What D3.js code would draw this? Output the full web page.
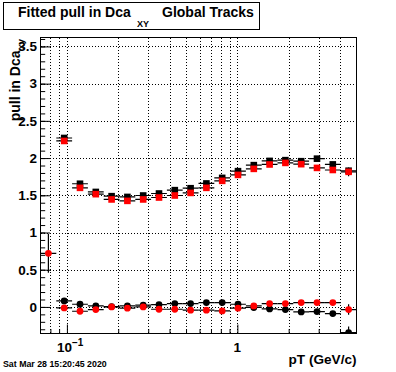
<!DOCTYPE html>
<html><head><meta charset="utf-8">
<script src="https://cdn.jsdelivr.net/npm/d3@7"></script>
<style>body{margin:0;background:#fff} text{font-family:"Liberation Sans",Arial,Helvetica,sans-serif;font-weight:bold;fill:#000}</style>
</head><body><svg id="c" width="396" height="372"></svg>
<script>
// pT bin edges (GeV/c), log-uniform 0.07 .. 5
const binEdges = [0.07, 0.08665, 0.10727, 0.13279, 0.16438, 0.20349, 0.25191, 0.31184, 0.38603, 0.47786, 0.59155,
                  0.73228, 0.90648, 1.12232, 1.38940, 1.71985, 2.12903, 2.63553, 3.26253, 4.03878, 5.0];
// series values per bin (null = no point)
const blackSquares = [null, 2.27, 1.655, 1.545, 1.488, 1.478, 1.497, 1.524, 1.569, 1.595, 1.659, 1.734, 1.824, 1.905, 1.962, 1.972, 1.958, 1.992, 1.915, 1.83];
const redSquares   = [null, 2.23, 1.600, 1.515, 1.444, 1.425, 1.444, 1.470, 1.497, 1.532, 1.600, 1.694, 1.774, 1.855, 1.914, 1.935, 1.918, 1.868, 1.840, 1.815];
const blackCircles = [null, 0.081, 0.036, 0.013, 0.005, 0.013, 0.023, 0.032, 0.045, 0.045, 0.059, 0.059, 0.036, -0.008, -0.027, -0.035, -0.067, -0.062, -0.089, -0.344];
const redCircles   = [0.72, -0.013, -0.058, -0.035, 0.0, -0.017, 0.0, -0.031, -0.031, -0.044, -0.044, -0.054, -0.017, 0.013, 0.045, 0.045, 0.059, 0.059, 0.059, -0.035];
// vertical errors
const blackSquaresErr = [0, 0.02, 0.02, 0.01, 0.01, 0.01, 0.01, 0.01, 0.01, 0.01, 0.01, 0.01, 0.01, 0.01, 0.01, 0.01, 0.01, 0.02, 0.02, 0.03];
const redSquaresErr   = [0, 0.02, 0.02, 0.01, 0.01, 0.01, 0.01, 0.01, 0.01, 0.01, 0.01, 0.01, 0.01, 0.01, 0.01, 0.01, 0.01, 0.02, 0.02, 0.06];
const blackCirclesErr = [0, 0.02, 0.01, 0.01, 0.01, 0.01, 0.01, 0.01, 0.01, 0.01, 0.01, 0.01, 0.01, 0.01, 0.01, 0.01, 0.01, 0.02, 0.02, 0.08];
const redCirclesErr   = [0.26, 0.02, 0.01, 0.01, 0.01, 0.01, 0.01, 0.01, 0.01, 0.01, 0.01, 0.01, 0.01, 0.01, 0.01, 0.01, 0.01, 0.02, 0.02, 0.07];

const yTicks = [0, 0.5, 1, 1.5, 2, 2.5, 3, 3.5];
const xMajorTicks = [0.1, 1];
const xMinorTicks = [0.08, 0.09, 0.2, 0.3, 0.4, 0.5, 0.6, 0.7, 0.8, 0.9, 2, 3, 4];
const titleMain = "Fitted pull in Dca", titleSub = "XY", titleRest = "Global Tracks";
const xTitle = "pT (GeV/c)";
const yTitleMain = "pull in Dca", yTitleSub = "xy";
const dateText = "Sat Mar 28 15:20:45 2020";

const W = 396, H = 372;
const svg = d3.select("#c");
svg.append("rect").attr("width", W).attr("height", H).attr("fill", "#fff");

const L = 40.5, R = 356.5, T = 37.5, B = 333.5;
const x = d3.scaleLog().domain([0.07, 5]).range([L, R]);
const y = d3.scaleLinear().domain([-0.357, 3.62]).range([B, T]);

// frame background
svg.append("rect").attr("x", L).attr("y", T).attr("width", R - L).attr("height", B - T).attr("fill", "#fff");

// grid
const grid = svg.append("g").attr("stroke", "#000").attr("stroke-width", 1).attr("stroke-dasharray", "1,2").attr("shape-rendering", "crispEdges");
xMajorTicks.concat(xMinorTicks).forEach(v => {
  const px = Math.round(x(v)) + 0.5;
  grid.append("line").attr("x1", px).attr("x2", px).attr("y1", T).attr("y2", B);
});
yTicks.forEach(v => {
  const py = Math.round(y(v)) + 0.5;
  grid.append("line").attr("x1", L).attr("x2", R).attr("y1", py).attr("y2", py);
});

// y axis
const yMinor = d3.range(-3, 37).map(i => i / 10);
svg.append("g").attr("transform", `translate(${L},0)`)
  .call(d3.axisLeft(y).tickValues(yMinor).tickSize(-4.7).tickFormat(""))
  .call(g => g.select(".domain").remove());
const yAx = svg.append("g").attr("transform", `translate(${L},0)`)
  .call(d3.axisLeft(y).tickValues(yTicks).tickSize(-9.5).tickSizeOuter(0).tickPadding(3.5).tickFormat(d3.format("~g")));
yAx.select(".domain").remove();
yAx.selectAll("text").style("font-size", "13.5px").style("font-family", "Liberation Sans").style("font-weight", "bold");

// x axis
svg.append("g").attr("transform", `translate(0,${B})`)
  .call(d3.axisBottom(x).tickValues(xMinorTicks).tickSize(-4.5).tickFormat(""))
  .call(g => g.select(".domain").remove());
svg.append("g").attr("transform", `translate(0,${B})`)
  .call(d3.axisBottom(x).tickValues(xMajorTicks).tickSize(-9).tickFormat(""))
  .call(g => g.select(".domain").remove());

// x labels
const lab1 = svg.append("text").attr("x", x(0.1) - 10).attr("y", 352).style("font-size", "13.5px");
lab1.append("tspan").text("10");
lab1.append("tspan").attr("dy", -6).style("font-size", "10px").text("\u22121");
svg.append("text").attr("x", x(1)).attr("y", 352).attr("text-anchor", "middle").style("font-size", "13.5px").text("1");

// frame
svg.append("rect").attr("x", L).attr("y", T).attr("width", R - L).attr("height", B - T)
  .attr("fill", "none").attr("stroke", "#000").attr("stroke-width", 1).attr("shape-rendering", "crispEdges");

// data
svg.append("clipPath").attr("id", "fr").append("rect").attr("x", L).attr("y", T).attr("width", R - L).attr("height", B - T);
const plot = svg.append("g").attr("clip-path", "url(#fr)");

function drawSeries(vals, errs, color, shape) {
  const pts = vals.map((v, i) => ({ v, e: errs[i], lo: binEdges[i], hi: binEdges[i + 1] })).filter(d => d.v !== null);
  const g = plot.append("g");
  pts.forEach(d => {
    const cx = (x(d.lo) + x(d.hi)) / 2, cy = y(d.v);
    g.append("line").attr("x1", x(d.lo)).attr("x2", x(d.hi)).attr("y1", cy).attr("y2", cy).attr("stroke", "#000").attr("stroke-width", 1.2);
    g.append("line").attr("x1", cx).attr("x2", cx).attr("y1", y(d.v + d.e)).attr("y2", y(d.v - d.e)).attr("stroke", "#000").attr("stroke-width", 1.2);
  });
  pts.forEach(d => {
    const cx = (x(d.lo) + x(d.hi)) / 2, cy = y(d.v);
    if (shape === "square") {
      g.append("rect").attr("x", cx - 3.3).attr("y", cy - 3.3).attr("width", 6.6).attr("height", 6.6).attr("fill", color);
    } else {
      g.append("circle").attr("cx", cx).attr("cy", cy).attr("r", 3.4).attr("fill", color);
    }
  });
}
drawSeries(blackSquares, blackSquaresErr, "#000", "square");
drawSeries(redSquares, redSquaresErr, "#ff0000", "square");
drawSeries(blackCircles, blackCirclesErr, "#000", "circle");
drawSeries(redCircles, redCirclesErr, "#ff0000", "circle");

// axis titles
svg.append("text").attr("x", R).attr("y", 364).attr("text-anchor", "end").style("font-size", "13.6px").text(xTitle);
const yt = svg.append("g").attr("transform", `translate(19.5,${T + 13}) rotate(-90)`);
yt.append("text").attr("x", 0).attr("y", 0).attr("text-anchor", "end").style("font-size", "14px").text(yTitleMain);
yt.append("text").attr("x", 1).attr("y", 4).style("font-size", "9.5px").text(yTitleSub);

// title box
svg.append("rect").attr("x", 3.5).attr("y", 2.5).attr("width", 256).attr("height", 27)
  .attr("fill", "#fff").attr("stroke", "#000").attr("stroke-width", 1).attr("shape-rendering", "crispEdges");
svg.append("text").attr("x", 18).attr("y", 17).style("font-size", "14px").text(titleMain);
svg.append("text").attr("x", 137).attr("y", 27).style("font-size", "9px").text(titleSub);
svg.append("text").attr("x", 162).attr("y", 17).style("font-size", "14px").text(titleRest);

// date stamp
svg.append("text").attr("x", 3).attr("y", 367).style("font-size", "8.8px").text(dateText);
</script></body></html>
